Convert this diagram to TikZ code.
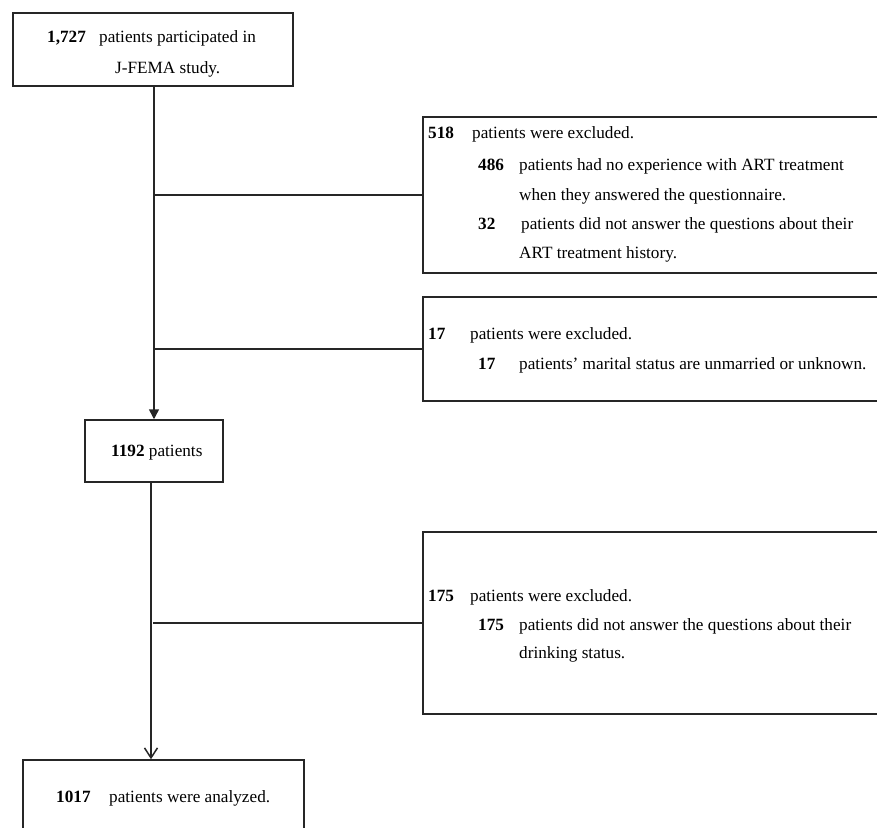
\documentclass[tikz,border=0pt]{standalone}
\usepackage{fontspec}
\setmainfont{Liberation Serif}
\usetikzlibrary{arrows.meta}
\begin{document}
\begin{tikzpicture}[x=1pt,y=-1pt,
  box/.style={draw=black!85, line width=1.5pt, rectangle, inner sep=0pt},
  txt/.style={anchor=base west, inner sep=0pt, font=\fontsize{17.2}{20}\selectfont},
  num/.style={txt, font=\fontsize{17.2}{20}\selectfont\bfseries},
  conn/.style={line width=1.5pt, black!85}]
\useasboundingbox (0,0) rectangle (877,827);
\clip (0,0) rectangle (877,827);
% boxes
\node[box, minimum width=280pt, minimum height=73pt] (b1) at (153,49.5) {};
\node[box, minimum width=466pt, minimum height=156pt] (b2) at (656,195) {};
\node[box, minimum width=466pt, minimum height=104pt] (b3) at (656,349) {};
\node[box, minimum width=138pt, minimum height=62pt] (b4) at (154,451) {};
\node[box, minimum width=466pt, minimum height=182pt] (b5) at (656,623) {};
\node[box, minimum width=281pt, minimum height=80pt] (b6) at (163.5,800) {};
% helper coordinates
\coordinate (s1) at (154,0);
\coordinate (s2) at (151,0);
\coordinate (s3) at (153,0);
% texts box 1
\node[num] (t1a) at (47,42) {1,727};
\node[txt] (t1b) at (99,42) {patients participated in};
\node[txt] (t1c) at (115,73) {J-FEMA study.};
% box 2
\node[num] (t2a) at (428,138) {518};
\node[txt] (t2b) at (472,138) {patients were excluded.};
\node[num] (t2c) at (478,170) {486};
\node[txt] (t2d) at (519,170) {patients had no experience with ART treatment};
\node[txt] (t2e) at (519,200) {when they answered the questionnaire.};
\node[num] (t2f) at (478,229) {32};
\node[txt] (t2g) at (521,229) {patients did not answer the questions about their};
\node[txt] (t2h) at (519,258) {ART treatment history.};
% box 3
\node[num] (t3a) at (428,339) {17};
\node[txt] (t3b) at (470,339) {patients were excluded.};
\node[num] (t3c) at (478,369) {17};
\node[txt] (t3d) at (519,369) {patients’ marital status are unmarried or unknown.};
% box 4
\node[txt] (t4a) at (111,456) {\textbf{1192} patients};
% box 5
\node[num] (t5a) at (428,601) {175};
\node[txt] (t5b) at (470,601) {patients were excluded.};
\node[num] (t5c) at (478,630) {175};
\node[txt] (t5d) at (519,630) {patients did not answer the questions about their};
\node[txt] (t5e) at (519,658) {drinking status.};
% box 6
\node[num] (t6a) at (56,802) {1017};
\node[txt] (t6b) at (109,802) {patients were analyzed.};
% connectors
\draw[conn, -{Triangle[length=10pt,width=10pt]}] (b1.south -| s1) -- (b4.north -| s1);
\draw[conn] (b2.west -| s1) -- (b2.west);
\draw[conn] (b3.west -| s1) -- (b3.west);
\draw[conn, -{Straight Barb[length=10pt,width=13pt,line width=1.5pt]}] (b4.south -| s2) -- (b6.north -| s2);
\draw[conn] (b5.west -| s3) -- (b5.west);
\end{tikzpicture}
\end{document}
